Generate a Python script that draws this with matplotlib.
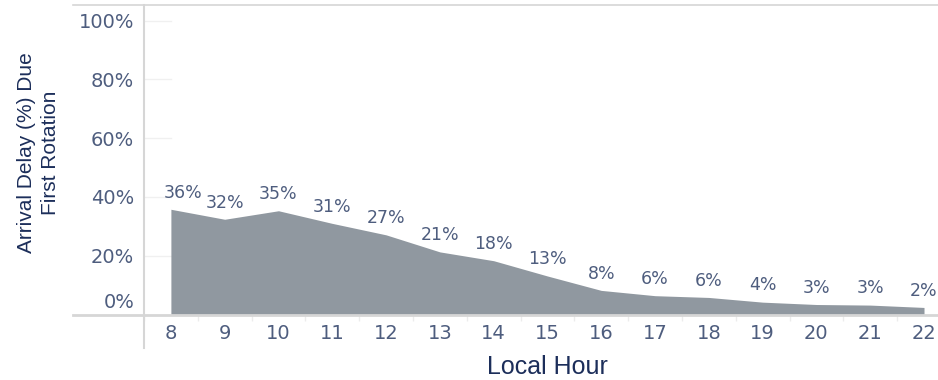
import matplotlib
matplotlib.use("Agg")
import matplotlib.pyplot as plt
import matplotlib.transforms as mtransforms
from matplotlib.lines import Line2D

# data
hours = [8, 9, 10, 11, 12, 13, 14, 15, 16, 17, 18, 19, 20, 21, 22]
delay_pct = [35.8, 32.4, 35.3, 31.0, 27.1, 21.3, 18.3, 13.1, 8.2, 6.4, 5.8, 4.2, 3.4, 3.2, 2.4]
y_ticks = [0, 20, 40, 60, 80, 100]
y_ticklabels = ["0%", "20%", "40%", "60%", "80%", "100%"]
x_title = "Local Hour"
y_title = "Arrival Delay (%) Due\nFirst Rotation"

tick_col = "#4e5d7e"
title_col = "#1c2e5a"
line_col = "#d6d6d6"
fill_col = "#9098a0"

W, H = 938, 380
fig = plt.figure(figsize=(W / 100, H / 100), dpi=100)
ax = fig.add_axes([144 / W, 1 - 314.5 / H, (938 - 144) / W, (314.5 - 5) / H])

ax.fill_between(hours, delay_pct, 0, color=fill_col, linewidth=0, zorder=2)
ax.set_xlim(7.517, 22.26)
ax.set_ylim(0, 105.3)

# short grid stubs at the left like the original
for yt in y_ticks[1:]:
    ax.plot([7.517, 8.0], [yt, yt], color="#f0f0f0", lw=1, zorder=1)

for x, v in zip(hours, delay_pct):
    dx = 9 if x == hours[0] else 0
    ax.annotate(f"{v:.0f}%", (x, v), xytext=(dx, 12), textcoords="offset points",
                ha="center", va="center", fontsize=12.5, color=tick_col)

ax.set_xticks(hours)
ax.set_xticks([h + 0.5 for h in hours[:-1]] + [7.5], minor=True)
ax.tick_params(axis="x", which="major", length=0, pad=7, labelsize=14, labelcolor=tick_col)
ax.tick_params(axis="x", which="minor", length=4, color="#ececec", width=1)
ax.set_yticks(y_ticks)
ax.set_yticklabels(y_ticklabels)
ax.tick_params(axis="y", length=0, pad=7, labelsize=14, labelcolor=tick_col)

# the 0% label sits a bit above the baseline in the original
lab0 = ax.get_yticklabels()[0]
lab0.set_transform(lab0.get_transform() + mtransforms.ScaledTranslation(0, 14.5 / 100, fig.dpi_scale_trans))

for s in ax.spines.values():
    s.set_visible(False)

# frame lines (Tableau style)
fig.add_artist(Line2D([144 / W, 144 / W], [1 - 5 / H, 1 - 348 / H], color=line_col, lw=1.5))
fig.add_artist(Line2D([73 / W, 1], [1 - 314.5 / H, 1 - 314.5 / H], color=line_col, lw=2))
fig.add_artist(Line2D([73 / W, 1], [1 - 5 / H, 1 - 5 / H], color=line_col, lw=1.2))

fig.text(547 / W, 1 - 367 / H, x_title, ha="center", va="center", fontsize=18,
         color=title_col, family="Liberation Sans")
fig.text(38.5 / W, 1 - 153 / H, y_title, ha="center", va="center", rotation=90,
         fontsize=15, color=title_col, family="Liberation Sans",
         multialignment="center", linespacing=1.35)

fig.savefig("out.png", dpi=100)
